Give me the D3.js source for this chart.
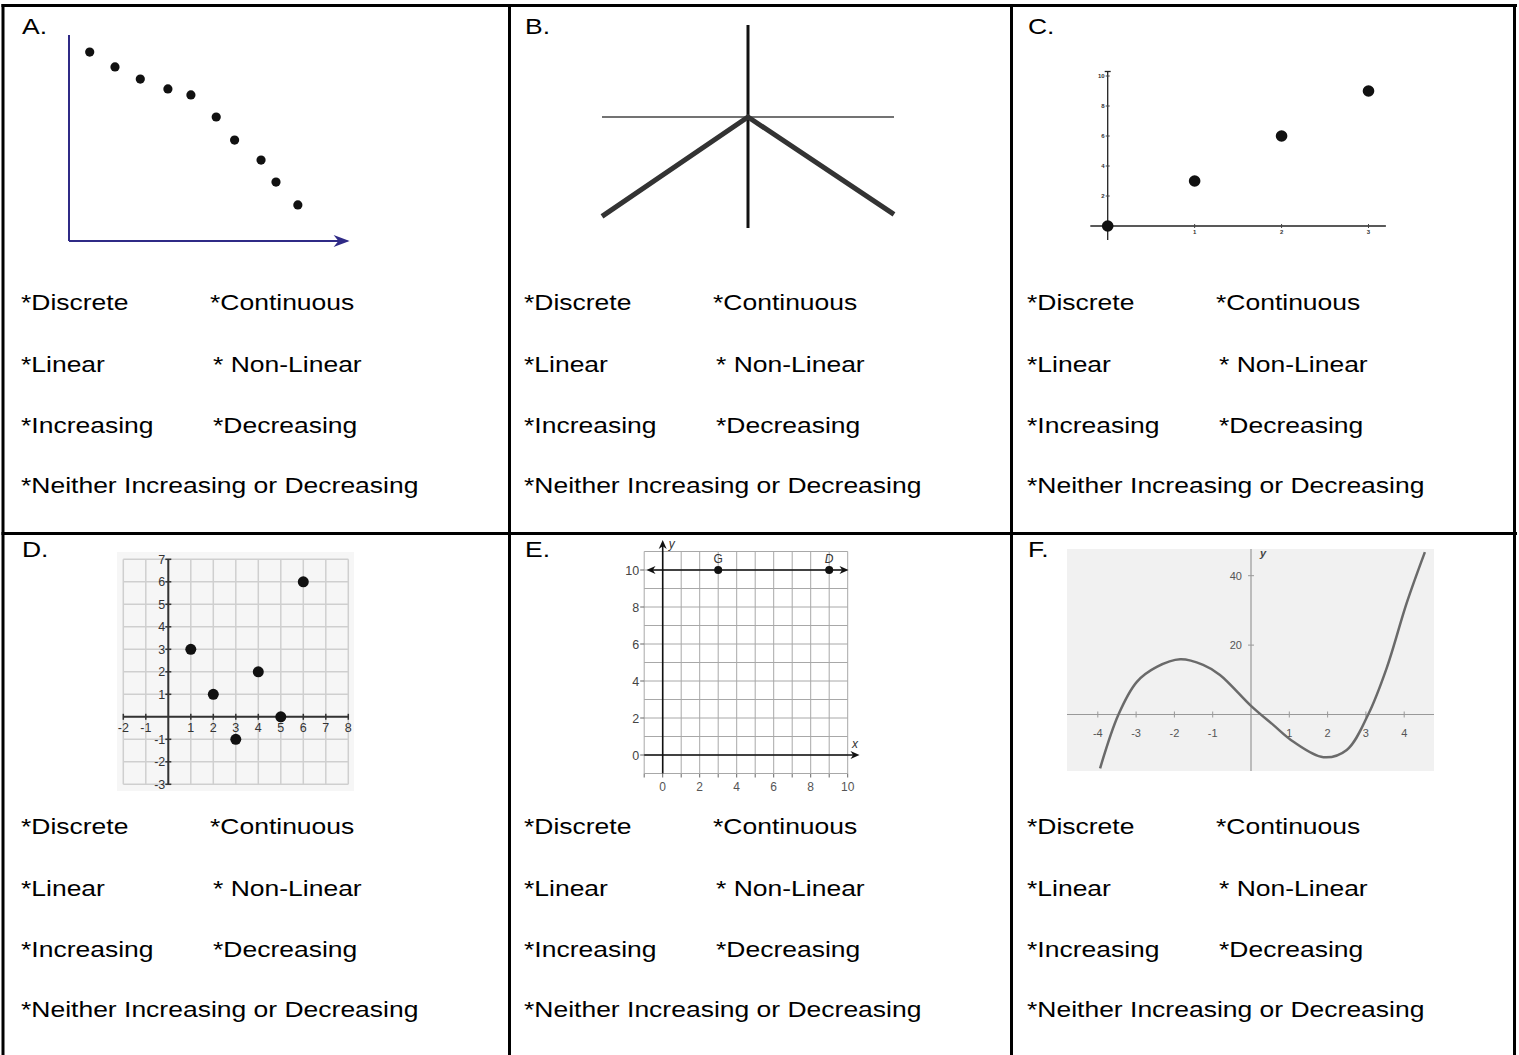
<!DOCTYPE html>
<html>
<head>
<meta charset="utf-8">
<script src="https://cdn.jsdelivr.net/npm/d3@7"></script>
<style>
  body { margin: 0; background: #fff; }
  svg { display: block; font-family: Arial, "Liberation Sans", sans-serif; }
</style>
</head>
<body>
<div id="sheet"></div>
<script>
// worksheet text
var panelLetters = ["A.", "B.", "C.", "D.", "E.", "F."];
var optionLeft = ["*Discrete", "*Linear", "*Increasing", "*Neither Increasing or Decreasing"];
var optionRight = ["*Continuous", "* Non-Linear", "*Decreasing", ""];

// A: falling scatter
var aX = [0.9, 2.0, 3.1, 4.3, 5.3, 6.4, 7.2, 8.35, 9.0, 9.95];
var aY = [9.17, 8.45, 7.86, 7.38, 7.09, 6.02, 4.9, 3.93, 2.86, 1.75];

// B: upside-down V
var bX = [-3, 0, 3];
var bY = [-2.04, 0, -2.0];

// C: four points
var cX = [0, 1, 2, 3];
var cY = [0, 3, 6, 9];
var cXTicks = [1, 2, 3];
var cYTicks = [2, 4, 6, 8, 10];

// D: scattered points on a grid
var dX = [1, 2, 3, 4, 5, 6];
var dY = [3, 1, -1, 2, 0, 6];
var dXTicks = [-2, -1, 1, 2, 3, 4, 5, 6, 7, 8];
var dYTicks = [7, 6, 5, 4, 3, 2, 1, -1, -2, -3];

// E: horizontal line y = 10 through G and D
var eNames = ["G", "D"];
var eX = [3, 9];
var eY = [10, 10];
var eTicks = [0, 2, 4, 6, 8, 10];

// F: cubic-looking curve
var fX = [-3.94, -3.46, -2.98, -2.46, -1.85, -1.25, -0.81, 0, 0.58, 1.10, 1.89, 2.50, 3.06, 3.54, 4.07, 4.54];
var fY = [-15.5, 0, 9.4, 13.7, 15.9, 14.3, 11.4, 2.5, -3.0, -7.8, -12.3, -10.2, 0, 13.3, 32.3, 46.8];
var fXTicks = [-4, -3, -2, -1, 1, 2, 3, 4];
var fYTicks = [20, 40];

var width = 1519, height = 1055;
var svg = d3.select("#sheet").append("svg")
    .attr("width", width)
    .attr("height", height);

// table borders
var border = svg.append("g").attr("stroke", "#000").attr("stroke-width", 3);
border.append("line").attr("x1", 1.5).attr("x2", 1517).attr("y1", 5.5).attr("y2", 5.5);
border.append("line").attr("x1", 1.5).attr("x2", 1517).attr("y1", 533.5).attr("y2", 533.5);
[3, 509.5, 1011.5, 1514.5].forEach(function (x) {
    border.append("line").attr("x1", x).attr("x2", x).attr("y1", 4).attr("y2", height);
});

// text in each cell
var colShift = [0, 503, 1006];
var rowShift = [0, 524];
var rowBase = [309.5, 371.5, 432.7, 493.3];
var rightCol = [210, 213, 213];
var stretch = 1.152;

function stretchedText(x, y, str) {
    return svg.append("text")
        .attr("transform", `translate(${x}, ${y}) scale(${stretch}, 1)`)
        .attr("font-size", 23)
        .attr("fill", "#000")
        .text(str);
}

panelLetters.forEach(function (lab, i) {
    var ox = colShift[i % 3];
    var oy = rowShift[Math.floor(i / 3)];
    stretchedText(22 + ox, 34 + oy - (oy ? 1 : 0), lab);
    optionLeft.forEach(function (t, r) {
        stretchedText(21 + ox, rowBase[r] + oy, t);
        if (optionRight[r]) stretchedText(rightCol[r] + ox, rowBase[r] + oy, optionRight[r]);
    });
});

// notched arrow head, angle in degrees (0 = right)
function arrowHead(g, tx, ty, angle, len, half, color) {
    g.append("path")
        .attr("d", `M0,0 L${-len},${-half} L${-len * 0.7},0 L${-len},${half} Z`)
        .attr("transform", `translate(${tx}, ${ty}) rotate(${angle})`)
        .attr("fill", color);
}

// ---- A ----
var xA = d3.scaleLinear().domain([0, 12]).range([69, 345]);
var yA = d3.scaleLinear().domain([0, 10]).range([241, 35]);
var gA = svg.append("g");
var blue = "#2f2a86";
gA.append("line").attr("x1", xA(0)).attr("x2", xA(0)).attr("y1", yA(10)).attr("y2", yA(0))
    .attr("stroke", blue).attr("stroke-width", 2);
gA.append("line").attr("x1", xA(0)).attr("x2", xA(12.1)).attr("y1", yA(0)).attr("y2", yA(0))
    .attr("stroke", blue).attr("stroke-width", 2);
arrowHead(gA, xA(12.2), yA(0), 0, 16, 6, blue);
gA.selectAll("circle").data(aX).enter().append("circle")
    .attr("cx", function (d) { return xA(d); })
    .attr("cy", function (d, i) { return yA(aY[i]); })
    .attr("r", 4.6)
    .attr("fill", "#111");

// ---- B ----
var xB = d3.scaleLinear().domain([-3, 3]).range([602, 894]);
var yB = d3.scaleLinear().domain([-2.28, 1.89]).range([228, 25]);
var gB = svg.append("g");
gB.append("line").attr("x1", xB(-3)).attr("x2", xB(3)).attr("y1", yB(0)).attr("y2", yB(0))
    .attr("stroke", "#444").attr("stroke-width", 1.6);
gB.append("line").attr("x1", xB(0)).attr("x2", xB(0)).attr("y1", yB(1.89)).attr("y2", yB(-2.28))
    .attr("stroke", "#111").attr("stroke-width", 3);
gB.append("path")
    .datum(bX)
    .attr("d", d3.line().x(function (d) { return xB(d); }).y(function (d, i) { return yB(bY[i]); }))
    .attr("fill", "none").attr("stroke", "#333").attr("stroke-width", 5);

// ---- C ----
var xC = d3.scaleLinear().domain([0, 3]).range([1107.7, 1368.5]);
var yC = d3.scaleLinear().domain([0, 10]).range([226, 76]);
var gC = svg.append("g");
gC.append("line").attr("x1", xC(-0.2)).attr("x2", xC(3.2)).attr("y1", yC(0)).attr("y2", yC(0))
    .attr("stroke", "#222").attr("stroke-width", 1.3);
gC.append("line").attr("x1", xC(0)).attr("x2", xC(0)).attr("y1", yC(-0.93)).attr("y2", yC(10.3))
    .attr("stroke", "#222").attr("stroke-width", 1.3);
gC.append("line").attr("x1", xC(0) - 3).attr("x2", xC(0) + 3).attr("y1", yC(10.3)).attr("y2", yC(10.3))
    .attr("stroke", "#222").attr("stroke-width", 1.3);
cXTicks.forEach(function (t) {
    gC.append("line").attr("x1", xC(t)).attr("x2", xC(t)).attr("y1", yC(0) - 2).attr("y2", yC(0) + 2)
        .attr("stroke", "#444");
    gC.append("text").attr("x", xC(t)).attr("y", yC(0) + 8).attr("font-size", 6)
        .attr("text-anchor", "middle").attr("font-weight", "bold").attr("fill", "#333").text(t);
});
cYTicks.forEach(function (t) {
    gC.append("line").attr("x1", xC(0) - 2).attr("x2", xC(0) + 2).attr("y1", yC(t)).attr("y2", yC(t))
        .attr("stroke", "#444");
    gC.append("text").attr("x", xC(0) - 3).attr("y", yC(t) + 2).attr("font-size", 6)
        .attr("text-anchor", "end").attr("font-weight", "bold").attr("fill", "#333").text(t);
});
gC.selectAll("circle").data(cX).enter().append("circle")
    .attr("cx", function (d) { return xC(d); })
    .attr("cy", function (d, i) { return yC(cY[i]); })
    .attr("r", 5.8)
    .attr("fill", "#111");

// ---- D ----
var xD = d3.scaleLinear().domain([-2, 8]).range([123.3, 348.3]);
var yD = d3.scaleLinear().domain([-3, 7]).range([784.3, 559.3]);
var gD = svg.append("g");
gD.append("rect").attr("x", 117).attr("y", 552).attr("width", 237).attr("height", 239).attr("fill", "#f6f6f6");
d3.range(-2, 9).forEach(function (v) {
    gD.append("line").attr("x1", xD(v)).attr("x2", xD(v)).attr("y1", yD(7)).attr("y2", yD(-3))
        .attr("stroke", "#cfcfcf").attr("stroke-width", 1.5);
});
d3.range(-3, 8).forEach(function (v) {
    gD.append("line").attr("x1", xD(-2)).attr("x2", xD(8)).attr("y1", yD(v)).attr("y2", yD(v))
        .attr("stroke", "#cfcfcf").attr("stroke-width", 1.5);
});
gD.append("line").attr("x1", xD(-2)).attr("x2", xD(8)).attr("y1", yD(0)).attr("y2", yD(0))
    .attr("stroke", "#333").attr("stroke-width", 2);
gD.append("line").attr("x1", xD(0)).attr("x2", xD(0)).attr("y1", yD(7)).attr("y2", yD(-3))
    .attr("stroke", "#333").attr("stroke-width", 2);
dXTicks.forEach(function (t) {
    gD.append("line").attr("x1", xD(t)).attr("x2", xD(t)).attr("y1", yD(0) - 3).attr("y2", yD(0) + 3)
        .attr("stroke", "#333").attr("stroke-width", 1.5);
    gD.append("text").attr("x", xD(t)).attr("y", yD(0) + 15).attr("font-size", 12.5)
        .attr("text-anchor", "middle").attr("fill", "#333").text(t);
});
dYTicks.forEach(function (t) {
    gD.append("line").attr("x1", xD(0) - 3).attr("x2", xD(0) + 3).attr("y1", yD(t)).attr("y2", yD(t))
        .attr("stroke", "#333").attr("stroke-width", 1.5);
    gD.append("text").attr("x", xD(0) - 3).attr("y", yD(t) + 4.5).attr("font-size", 12.5)
        .attr("text-anchor", "end").attr("fill", "#333").text(t);
});
gD.selectAll("circle").data(dX).enter().append("circle")
    .attr("cx", function (d) { return xD(d); })
    .attr("cy", function (d, i) { return yD(dY[i]); })
    .attr("r", 5.5)
    .attr("fill", "#111");

// ---- E ----
var xE = d3.scaleLinear().domain([0, 10]).range([662.7, 847.7]);
var yE = d3.scaleLinear().domain([0, 10]).range([755, 570]);
var gE = svg.append("g");
d3.range(-1, 11).forEach(function (v) {
    gE.append("line").attr("x1", xE(v)).attr("x2", xE(v)).attr("y1", yE(11)).attr("y2", yE(-1))
        .attr("stroke", "#a8a8a8").attr("stroke-width", 1);
    gE.append("line").attr("x1", xE(v)).attr("x2", xE(v)).attr("y1", yE(-1)).attr("y2", yE(-1) + 4)
        .attr("stroke", "#666").attr("stroke-width", 1);
});
d3.range(-1, 12).forEach(function (v) {
    gE.append("line").attr("x1", xE(-1)).attr("x2", xE(10)).attr("y1", yE(v)).attr("y2", yE(v))
        .attr("stroke", "#a8a8a8").attr("stroke-width", 1);
});
eTicks.forEach(function (t) {
    gE.append("text").attr("x", xE(t)).attr("y", yE(-1) + 17).attr("font-size", 12)
        .attr("text-anchor", "middle").attr("fill", "#555").text(t);
    gE.append("text").attr("x", xE(-1) - 5).attr("y", yE(t) + 4.5).attr("font-size", 12.5)
        .attr("text-anchor", "end").attr("fill", "#444").text(t);
    gE.append("line").attr("x1", xE(-1) - 4).attr("x2", xE(-1)).attr("y1", yE(t)).attr("y2", yE(t))
        .attr("stroke", "#666");
});
// axes with arrows
gE.append("line").attr("x1", xE(0)).attr("x2", xE(0)).attr("y1", yE(-1)).attr("y2", 546)
    .attr("stroke", "#111").attr("stroke-width", 1.6);
arrowHead(gE, xE(0), 540, -90, 9, 4, "#111");
gE.append("line").attr("x1", xE(-1)).attr("x2", 853).attr("y1", yE(0)).attr("y2", yE(0))
    .attr("stroke", "#111").attr("stroke-width", 1.6);
arrowHead(gE, 859.5, yE(0), 0, 9, 4, "#111");
gE.append("text").attr("x", xE(0) + 6).attr("y", 548).attr("font-size", 12)
    .attr("font-style", "italic").attr("fill", "#333").text("y");
gE.append("text").attr("x", 852).attr("y", 748).attr("font-size", 12)
    .attr("font-style", "italic").attr("fill", "#333").text("x");
// line y = 10 with arrows both ends
gE.append("line").attr("x1", 652).attr("x2", 842).attr("y1", yE(10)).attr("y2", yE(10))
    .attr("stroke", "#111").attr("stroke-width", 1.6);
arrowHead(gE, 646.5, yE(10), 180, 9, 4, "#111");
arrowHead(gE, 848.5, yE(10), 0, 9, 4, "#111");
gE.selectAll("circle").data(eX).enter().append("circle")
    .attr("cx", function (d) { return xE(d); })
    .attr("cy", function (d, i) { return yE(eY[i]); })
    .attr("r", 4)
    .attr("fill", "#111");
eNames.forEach(function (n, i) {
    gE.append("text").attr("x", xE(eX[i])).attr("y", yE(eY[i]) - 7).attr("font-size", 12)
        .attr("text-anchor", "middle").attr("fill", "#333")
        .attr("font-style", i === 1 ? "italic" : "normal").text(n);
});

// ---- F ----
var xF = d3.scaleLinear().domain([-4, 4]).range([1097.8, 1404.2]);
var yF = d3.scaleLinear().domain([0, 40]).range([714.5, 575.7]);
var gF = svg.append("g");
gF.append("rect").attr("x", 1067).attr("y", 549).attr("width", 367).attr("height", 222).attr("fill", "#f1f1f1");
svg.append("clipPath").attr("id", "clipF")
    .append("rect").attr("x", 1067).attr("y", 549).attr("width", 367).attr("height", 222);
gF.append("line").attr("x1", 1067).attr("x2", 1434).attr("y1", yF(0)).attr("y2", yF(0))
    .attr("stroke", "#999").attr("stroke-width", 1.2);
gF.append("line").attr("x1", xF(0)).attr("x2", xF(0)).attr("y1", 549).attr("y2", 771)
    .attr("stroke", "#999").attr("stroke-width", 1.2);
fXTicks.forEach(function (t) {
    gF.append("line").attr("x1", xF(t)).attr("x2", xF(t)).attr("y1", yF(0) - 3).attr("y2", yF(0) + 3)
        .attr("stroke", "#999");
    gF.append("text").attr("x", xF(t)).attr("y", yF(0) + 22).attr("font-size", 11)
        .attr("text-anchor", "middle").attr("fill", "#555").text(t);
});
fYTicks.forEach(function (t) {
    gF.append("line").attr("x1", xF(0) - 3).attr("x2", xF(0) + 3).attr("y1", yF(t)).attr("y2", yF(t))
        .attr("stroke", "#999");
    gF.append("text").attr("x", xF(0) - 9).attr("y", yF(t) + 4).attr("font-size", 11)
        .attr("text-anchor", "end").attr("fill", "#555").text(t);
});
gF.append("text").attr("x", xF(0) + 9).attr("y", 557).attr("font-size", 11)
    .attr("font-style", "italic").attr("font-weight", "bold").attr("fill", "#444").text("y");
gF.append("path")
    .datum(fX)
    .attr("clip-path", "url(#clipF)")
    .attr("d", d3.line()
        .x(function (d) { return xF(d); })
        .y(function (d, i) { return yF(fY[i]); })
        .curve(d3.curveCatmullRom))
    .attr("fill", "none").attr("stroke", "#6a6a6a").attr("stroke-width", 2.5);
</script>
</body>
</html>
